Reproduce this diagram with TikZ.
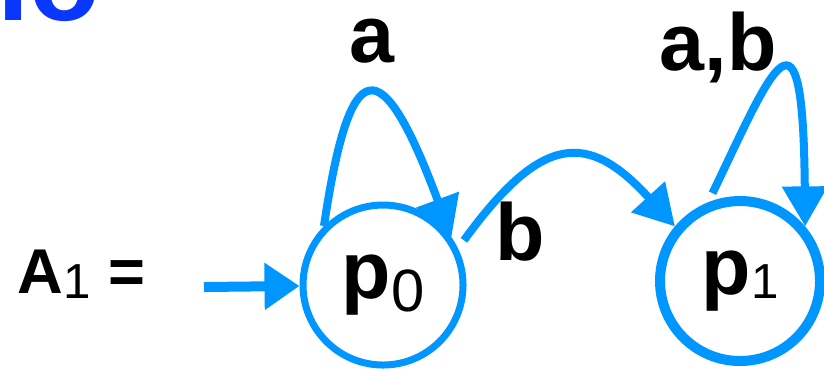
\documentclass[tikz,border=0pt]{standalone}
\usepackage{fontspec}
\setmainfont{Liberation Sans}
\usetikzlibrary{arrows.meta, shadows}
\definecolor{edgeblue}{RGB}{0, 150, 255}
\definecolor{titleblue}{RGB}{10, 55, 255}
\newcommand{\subtxt}[3]{\raisebox{-#1}{\fontsize{#2}{#2}\selectfont\mdseries #3}}

\begin{document}
\begin{tikzpicture}[
		state/.style={circle, draw=edgeblue, fill=white, minimum size=1.6cm,
			inner sep=0pt, font=\fontsize{23pt}{23pt}\selectfont\bfseries,
			drop shadow={opacity=0.18, shadow xshift=0.02cm, shadow yshift=-0.025cm}},
		elabel/.style={font=\fontsize{23pt}{23pt}\selectfont\bfseries,
			inner sep=0pt, anchor=base},
		arr/.style={-{Triangle[length=0.40cm, width=0.44cm]}, line width=0.08cm, edgeblue}
		]
		\useasboundingbox (0,0) rectangle (8.24,3.71);
		\node[font=\fontsize{33pt}{33pt}\selectfont\bfseries, text=titleblue,
			inner sep=0pt, anchor=base west] (title) at (-0.03,3.51) {lo};
		\node[font=\fontsize{18pt}{18pt}\selectfont\bfseries,
			inner sep=0pt, anchor=base west] (aname) at (0.17,0.78) {A\subtxt{0.05cm}{14pt}{1} =};
		\node[state, line width=0.07cm] (p0) at (3.83,0.86) {p\subtxt{0.13cm}{17pt}{0}};
		\node[state, line width=0.10cm] (p1) at (7.40,0.90) {p\subtxt{0.04cm}{14pt}{1}};
		\coordinate (init) at (2.04,0.84);
		\draw[arr, line width=0.10cm, -{Triangle[length=0.35cm, width=0.45cm]}] (init) -- (p0);
		\draw[arr] (p0.135) .. controls (3.50,3.20) and (3.81,3.23) .. (p0.35);
		\draw[arr, shorten <=0.1cm] (p0.26) .. controls (5.42,2.38) and (5.88,2.40) .. (p1.140);
		\draw[arr, shorten <=0.1cm] (p1.112) .. controls (7.74,3.06) and (8.03,3.84) .. (p1.40);
		\node[elabel] (la) at (3.72,3.09) {a};
		\node[elabel] (lb) at (5.20,1.11) {b};
		\node[elabel] (lab) at (7.18,3.01) {a,b};
	\end{tikzpicture}
\end{document}
